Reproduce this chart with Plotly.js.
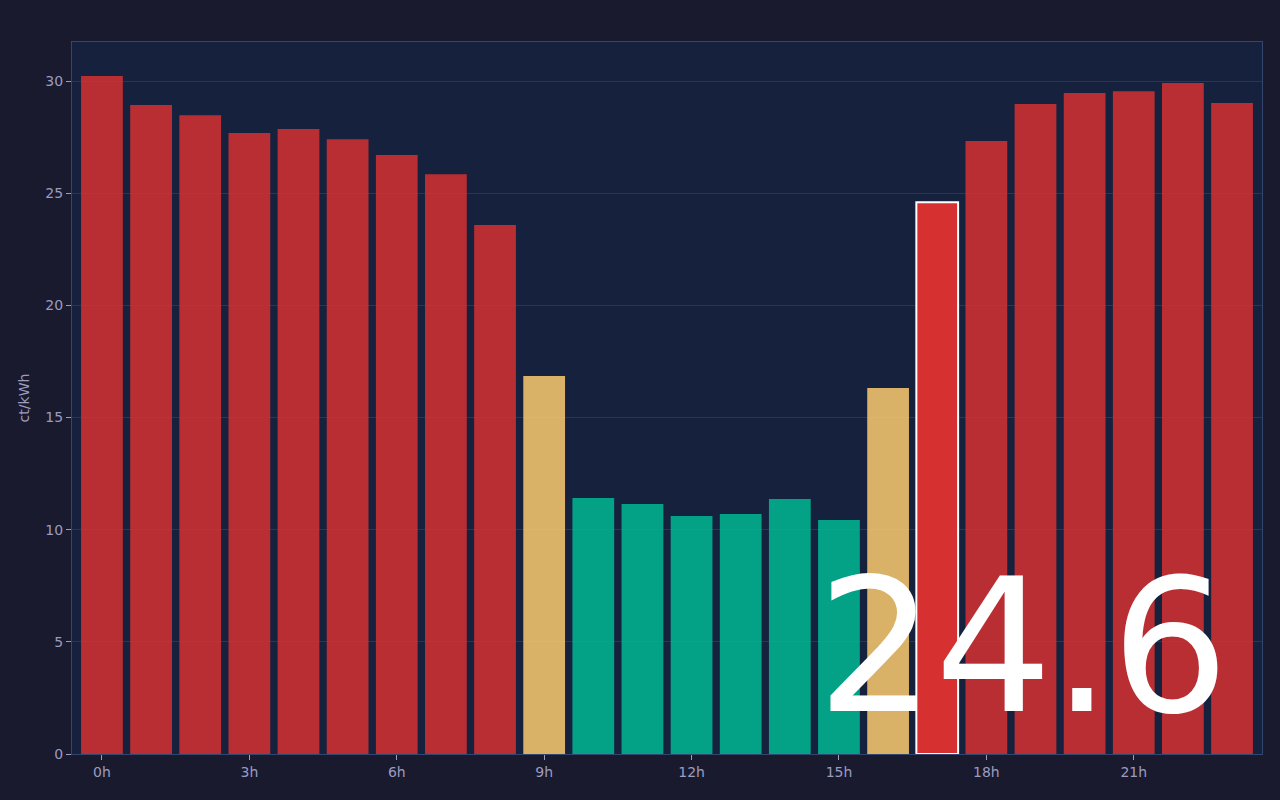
<!DOCTYPE html>
<html>
<head>
<meta charset="utf-8">
<script src="https://cdn.plot.ly/plotly-3.0.1.min.js"></script>
<style>
    html, body { margin: 0; padding: 0; background: #1a1a2e; }
    #priceChart { width: 1280px; height: 800px; }
</style>
</head>
<body>
<div id="priceChart"></div>
<script>
const hours = [0, 1, 2, 3, 4, 5, 6, 7, 8, 9, 10, 11, 12, 13, 14, 15, 16, 17, 18, 19, 20, 21, 22, 23];
const prices = [30.22, 28.93, 28.48, 27.68, 27.86, 27.41, 26.70, 25.85, 23.58, 16.85, 11.41, 11.14,
    10.61, 10.70, 11.37, 10.43, 16.32, 24.6, 27.33, 28.98, 29.47, 29.55, 29.91, 29.02];
const tickHours = [0, 3, 6, 9, 12, 15, 18, 21];
const tickLabels = ['0h', '3h', '6h', '9h', '12h', '15h', '18h', '21h'];
const currentHour = 17;
const currentPrice = '24.6';

function priceColor(p) {
    if (p < 15) return '#00b894';
    if (p < 20) return '#fdcb6e';
    return '#d63031';
}

function createPriceChart() {
    const trace = {
        x: hours,
        y: prices,
        type: 'bar',
        hoverinfo: 'none',
        marker: {
            color: prices.map(priceColor),
            opacity: hours.map(h => h === currentHour ? 1 : 0.85),
            line: {
                color: hours.map(h => h === currentHour ? '#ffffff' : 'rgba(0,0,0,0)'),
                width: hours.map(h => h === currentHour ? 2 : 0)
            }
        }
    };

    const axisFont = { family: 'DejaVu Sans', size: 14, color: '#9a9cc0' };

    const layout = {
        paper_bgcolor: '#1a1a2e',
        plot_bgcolor: '#16213e',
        margin: { l: 72, r: 18, t: 42, b: 46 },
        bargap: 0.15,
        showlegend: false,
        font: axisFont,
        xaxis: {
            range: [-0.61, 23.61],
            tickvals: tickHours,
            ticktext: tickLabels,
            ticks: 'outside',
            ticklen: 5,
            tickcolor: '#9a9cc0',
            tickfont: axisFont,
            showgrid: false,
            zeroline: false,
            showline: true,
            mirror: true,
            linecolor: '#33466e',
            linewidth: 1
        },
        yaxis: {
            title: { text: 'ct/kWh', font: axisFont, standoff: 12 },
            range: [0, 31.74],
            dtick: 5,
            ticks: 'outside',
            ticklen: 5,
            tickcolor: '#9a9cc0',
            tickfont: axisFont,
            gridcolor: '#2a3658',
            zeroline: false,
            showline: true,
            mirror: true,
            linecolor: '#33466e',
            linewidth: 1
        },
        annotations: [{
            text: currentPrice,
            xref: 'paper',
            yref: 'paper',
            x: 0.799,
            y: 0.150,
            xanchor: 'center',
            yanchor: 'middle',
            showarrow: false,
            font: { family: 'DejaVu Sans', size: 185, color: '#ffffff' }
        }]
    };

    Plotly.newPlot('priceChart', [trace], layout, { displayModeBar: false, staticPlot: true });
}

createPriceChart();
</script>
</body>
</html>
